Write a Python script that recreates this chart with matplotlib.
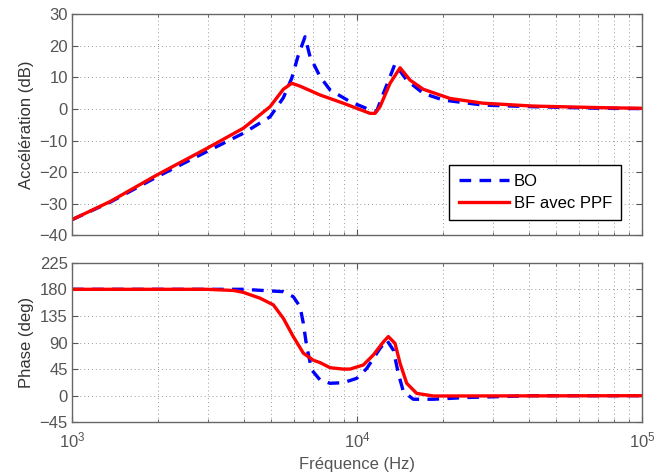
import matplotlib
matplotlib.use("Agg")
import matplotlib.pyplot as plt
from matplotlib.ticker import LogLocator, MultipleLocator, NullFormatter

plt.rcParams['font.family'] = ['Liberation Sans', 'DejaVu Sans']
plt.rcParams['mathtext.fontset'] = 'custom'
plt.rcParams['mathtext.rm'] = 'Liberation Sans'
plt.rcParams['mathtext.it'] = 'Liberation Sans'

# ---- data ----
f_mag_bo = [1000, 1359, 1983, 2969, 3991, 4952, 5512, 5901, 6200, 6570, 6841, 7418, 8041,
            9450, 11108, 11722, 12372, 13058, 13589, 14941, 17087, 20084, 27752, 41443, 71222, 100000]
mag_bo = [-35, -29.5, -21.5, -13.5, -7.7, -2.5, 3.5, 9.7, 16.5, 22.8, 16.5, 10.2, 6.0,
          2.3, -0.3, -0.7, 4.9, 10.2, 14.2, 9.1, 4.9, 2.8, 1.2, 0.7, 0.2, 0.1]

f_mag_bf = [1000, 1359, 1983, 2969, 3991, 4952, 5512, 5901, 6310, 7418, 8953, 11108, 11566,
            12040, 13058, 14158, 15350, 17087, 21207, 27752, 41443, 71222, 100000]
mag_bf = [-35, -29.3, -20.9, -12.5, -6.1, 0.7, 6.2, 8.1, 7.2, 4.4, 1.8, -1.4, -1.4,
          0.7, 8.1, 13.0, 9.1, 6.2, 3.3, 1.8, 0.9, 0.4, 0.2]

f_ph_bo = [1000, 3991, 5512, 5975, 6310, 6480, 6660, 6937, 7418, 8041, 8953, 9975, 10814,
           12040, 12716, 13418, 13956, 14540, 15758, 18524, 24262, 41443, 100000]
ph_bo = [180, 180, 176, 167.5, 150.6, 122.5, 83, 43.5, 26.6, 21, 22, 29.4, 46,
         80, 94, 77, 38, 7, -6, -6, -3, 0, 0]

f_ph_bf = [1000, 2969, 3700, 3991, 4566, 5086, 5512, 5975, 6480, 7027, 7418, 8041, 8953,
           9450, 10522, 11414, 12372, 12880, 13589, 14158, 14941, 16184, 18524, 100000]
ph_bf = [180, 180, 178, 174.8, 165, 153.7, 131, 100, 72, 60, 56, 47.4, 45,
         45, 52, 69, 91, 100, 88.6, 54.8, 21, 4, -0.5, 0]

labels = ['BO', 'BF avec PPF']
mag_ticks = [-40, -30, -20, -10, 0, 10, 20, 30]
ph_ticks = [-45, 0, 45, 90, 135, 180, 225]

# ---- figure ----
fig = plt.figure(figsize=(6.56, 4.76), dpi=100)
ax1 = fig.add_axes([0.1098, 0.5053, 0.8689, 0.4653])
ax2 = fig.add_axes([0.1098, 0.1128, 0.8689, 0.3353])

tick_col = '#555555'
spine_col = '#666666'
blue_kw = dict(color='#0000ff', lw=2.4, linestyle=(0, (3.5, 2.5)))
red_kw = dict(color='#ff0000', lw=2.4, linestyle='-')

ax1.plot(f_mag_bo, mag_bo, label=labels[0], **blue_kw)
ax1.plot(f_mag_bf, mag_bf, label=labels[1], **red_kw)
ax2.plot(f_ph_bo, ph_bo, **blue_kw)
ax2.plot(f_ph_bf, ph_bf, **red_kw)

for ax, ticks in ((ax1, mag_ticks), (ax2, ph_ticks)):
    ax.set_xscale('log')
    ax.set_xlim(1e3, 1e5)
    ax.set_ylim(ticks[0], ticks[-1])
    ax.set_yticks(ticks)
    ax.xaxis.set_major_locator(LogLocator(base=10, numticks=10))
    ax.xaxis.set_minor_locator(LogLocator(base=10, subs=range(2, 10), numticks=20))
    ax.xaxis.set_minor_formatter(NullFormatter())
    ax.grid(True, which='major', axis='both', linestyle=(0, (1, 3)), color='#9a9a9a', lw=0.7)
    ax.grid(True, which='minor', axis='x', linestyle=(0, (1, 3)), color='#9a9a9a', lw=0.7)
    ax.tick_params(which='both', direction='in', top=True, right=True, colors=tick_col,
                   labelsize=12, labelcolor=tick_col)
    ax.tick_params(which='major', length=4, width=0.8)
    ax.tick_params(which='minor', length=2.5, width=0.6)
    ax.tick_params(axis='y', pad=3)
    ax.tick_params(axis='x', pad=6)
    for s in ax.spines.values():
        s.set_color(spine_col)
        s.set_linewidth(1.0)

ax1.tick_params(axis='x', which='both', labelbottom=False)
ax1.set_ylabel('Accélération (dB)', fontsize=12, color='#333333', labelpad=4)
ax2.set_ylabel('Phase (deg)', fontsize=12, color='#333333', labelpad=4)
ax2.set_xlabel('Fréquence (Hz)', fontsize=12, color='#555555', labelpad=5)

leg = ax1.legend(loc='lower right', bbox_to_anchor=(0.963, 0.07), borderaxespad=0,
                 fancybox=False, edgecolor='black', framealpha=1, fontsize=12,
                 handlelength=3.0, borderpad=0.55, labelspacing=0.4, handletextpad=0.3)
leg.get_frame().set_linewidth(1.0)

fig.savefig('out.png', dpi=100)
